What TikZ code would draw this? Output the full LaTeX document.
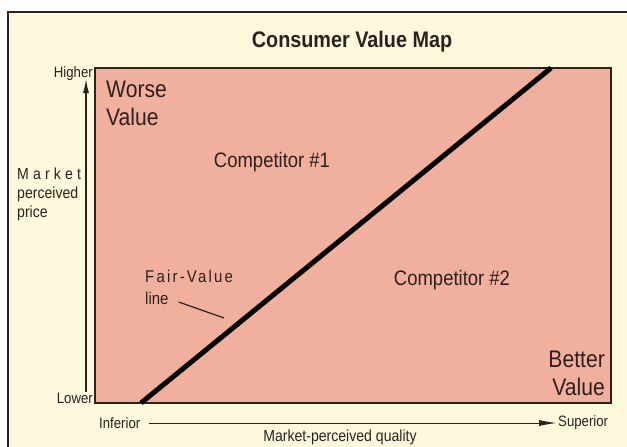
\documentclass[tikz,border=0pt]{standalone}
\usepackage{fontspec}
\setmainfont{Liberation Sans}[FakeStretch=0.88]
\usetikzlibrary{arrows.meta}

\definecolor{paper}{RGB}{252,249,220}
\definecolor{mapfill}{RGB}{241,176,158}
\definecolor{ink}{RGB}{45,32,30}

\tikzset{
  txt/.style={inner sep=0pt, text=ink},
  axislabel/.style={txt, font=\fontsize{15}{18}\selectfont},
  biglabel/.style={txt, font=\fontsize{24}{28}\selectfont},
  complabel/.style={txt, font=\fontsize{21}{25}\selectfont},
}

\begin{document}
\begin{tikzpicture}[x=1pt,y=-1pt]
\useasboundingbox (0,0) rectangle (627,447);
% frame and map area
\fill[white] (0,0) rectangle (627,447);
\draw[ink,line width=2pt,fill=paper] (8,12) rectangle (640,460);
\draw[ink,line width=2pt,fill=mapfill] (95,68) rectangle (611,403);

\node[txt,font=\bfseries\fontsize{22.5}{26}\selectfont] (title) at (352,42) {Consumer Value Map};

% fair-value line
\coordinate (fvlow) at (141,403);
\coordinate (fvhigh) at (551,68);
\draw[black,line width=5pt] (fvlow) -- (fvhigh);

% labels inside the map
\node[biglabel,align=left,anchor=north west] (worse) at (106,81) {Worse\\Value};
\node[biglabel,align=right,anchor=south east] (better) at (605,396) {Better\\Value};
\node[complabel] (comp1) at (272,162) {Competitor \#1};
\node[complabel] (comp2) at (452,280) {Competitor \#2};
\node[txt,anchor=west,font=\fontsize{17}{20}\addfontfeature{LetterSpace=13}\selectfont] (fairvalue) at (145,276) {Fair-Value};
\node[txt,anchor=west,font=\fontsize{17}{20}\selectfont] (fvline) at (145,298) {line};
\coordinate (fvpoint) at (224,318);
\draw[ink,line width=1.2pt] ([xshift=10pt,yshift=-4pt]fvline.east) -- (fvpoint);

% price axis
\node[axislabel,anchor=east] (higher) at (93,74) {Higher};
\node[axislabel,anchor=east] (lower) at (93,398) {Lower};
\node[txt,align=left,anchor=west,font=\fontsize{16}{19}\selectfont] (price) at (17,194)
  {{\addfontfeature{LetterSpace=26}Market}\\perceived\\price};
\coordinate (ybot) at (86,392);
\coordinate (ytop) at (86,79);
\draw[ink,line width=1.2pt,-{Latex[length=14pt,width=6pt]}] (ybot) -- (ytop);

% quality axis
\node[axislabel,anchor=west] (inferior) at (99,423) {Inferior};
\node[axislabel,anchor=west] (superior) at (558,423) {Superior};
\node[txt,font=\fontsize{16}{19}\selectfont] (quality) at (340,437) {Market-perceived quality};
\draw[ink,line width=1pt,-{Latex[length=18pt,width=6pt]}] ([xshift=9pt]inferior.east) -- ([xshift=-1pt]superior.west);
\end{tikzpicture}
\end{document}
